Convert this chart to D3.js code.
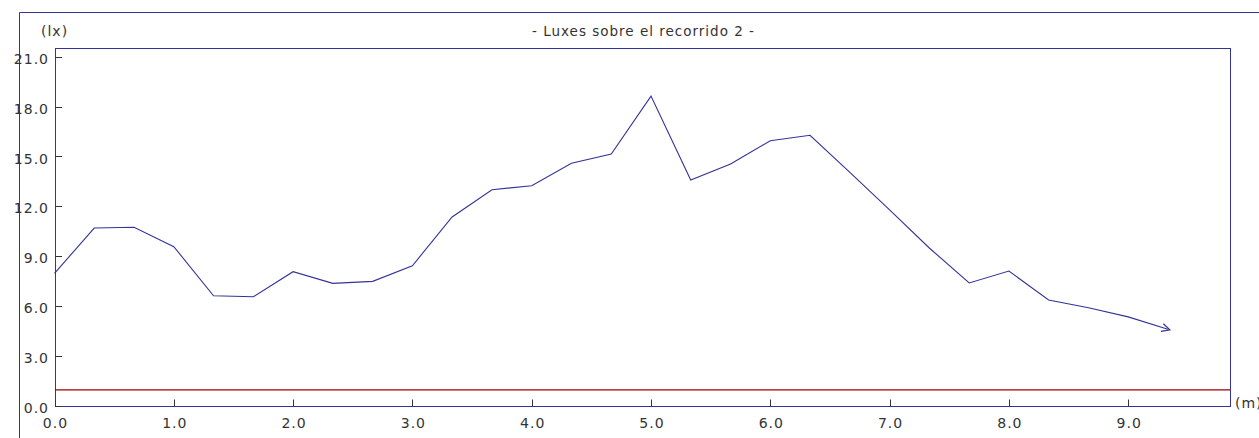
<!DOCTYPE html>
<html>
<head>
<meta charset="utf-8">
<script src="https://cdn.jsdelivr.net/npm/d3@7"></script>
<style>
  body { margin: 0; background: #fff; }
  text { font-family: "DejaVu Sans", Verdana, sans-serif; fill: #333; letter-spacing: 1px; }
</style>
</head>
<body>
<svg id="chart" width="1259" height="438"></svg>
<script>
// distance along the path (m) and measured illuminance (lx)
var distances = [0.000, 0.333, 0.667, 1.000, 1.333, 1.667, 2.000, 2.333, 2.667, 3.000,
                 3.333, 3.667, 4.000, 4.333, 4.667, 5.000, 5.333, 5.667, 6.000, 6.333,
                 6.667, 7.000, 7.333, 7.667, 8.000, 8.333, 8.667, 9.000, 9.333];
var luxes = [8.02, 10.75, 10.80, 9.63, 6.67, 6.61, 8.12, 7.42, 7.54, 8.48,
             11.42, 13.06, 13.30, 14.65, 15.21, 18.70, 13.64, 14.61, 16.01, 16.34,
             14.10, 11.85, 9.55, 7.44, 8.16, 6.42, 5.95, 5.40, 4.65];
var minimumLux = 1.0;
var yTicks = [0, 3, 6, 9, 12, 15, 18, 21];
var xTicks = [0, 1, 2, 3, 4, 5, 6, 7, 8, 9];
var title = "- Luxes sobre el recorrido 2 -";

var NAVY = "#333399";
var svg = d3.select("#chart");

var plot = { left: 55, right: 1230, top: 48, bottom: 406.5 };

var x = d3.scaleLinear().domain([0, 9.85]).range([54.5, 54.5 + 9.85 * 119.3]);
var y = d3.scaleLinear().domain([0, 21.6]).range([plot.bottom, plot.bottom - 21.6 * 16.6]);

svg.append("defs").append("marker")
    .attr("id", "arrow")
    .attr("viewBox", "-10 -6 12 12")
    .attr("refX", -2)
    .attr("refY", 0)
    .attr("markerWidth", 12)
    .attr("markerHeight", 12)
    .attr("markerUnits", "userSpaceOnUse")
    .attr("orient", "auto")
    .append("path")
    .attr("d", "M-8,-4L0,0L-8,4")
    .style("fill", "none")
    .style("stroke", NAVY)
    .attr("stroke-width", 1.2);

// outer frame (top + left)
svg.append("path")
    .attr("d", "M19.5,438V12.5H1259")
    .style("fill", "none")
    .style("stroke", NAVY);

// plot box
svg.append("rect")
    .attr("x", plot.left + 0.5)
    .attr("y", plot.top + 0.5)
    .attr("width", plot.right - plot.left)
    .attr("height", plot.bottom - plot.top - 0.5)
    .style("fill", "none")
    .style("stroke", NAVY);

// y ticks + labels
var yAxis = svg.append("g").attr("class", "y-axis");
yAxis.selectAll("line")
    .data(yTicks)
    .enter()
    .append("line")
    .attr("x1", plot.left)
    .attr("x2", plot.left + 7)
    .attr("y1", function (d) { return Math.round(y(d)) - 0.5; })
    .attr("y2", function (d) { return Math.round(y(d)) - 0.5; })
    .style("stroke", "#333");
yAxis.selectAll("text")
    .data(yTicks)
    .enter()
    .append("text")
    .attr("x", 49)
    .attr("y", function (d) { return y(d) + 6; })
    .attr("text-anchor", "end")
    .attr("font-size", 14)
    .text(function (d) { return d.toFixed(1); });

// x ticks + labels
var xAxis = svg.append("g").attr("class", "x-axis");
xAxis.selectAll("line")
    .data(xTicks)
    .enter()
    .append("line")
    .attr("x1", function (d) { return Math.round(x(d)) + 0.5; })
    .attr("x2", function (d) { return Math.round(x(d)) + 0.5; })
    .attr("y1", plot.bottom)
    .attr("y2", plot.bottom - 7)
    .style("stroke", "#333");
xAxis.selectAll("text")
    .data(xTicks)
    .enter()
    .append("text")
    .attr("x", function (d) { return x(d) + 1; })
    .attr("y", 428)
    .attr("text-anchor", "middle")
    .attr("font-size", 14)
    .text(function (d) { return d.toFixed(1); });

// units and title
svg.append("text").attr("x", 41).attr("y", 36).attr("font-size", 14).text("(lx)");
svg.append("text").attr("x", 1235).attr("y", 408).attr("font-size", 14).text("(m)");
svg.append("text")
    .attr("x", (plot.left + plot.right) / 2 + 1)
    .attr("y", 36)
    .attr("text-anchor", "middle")
    .attr("font-size", 13.5)
    .text(title);

// minimum reference line
svg.append("line")
    .attr("x1", plot.left)
    .attr("x2", plot.right)
    .attr("y1", y(minimumLux))
    .attr("y2", y(minimumLux))
    .style("stroke", "#990000")
    .attr("stroke-width", 1.2);

// lux curve
var points = distances.map(function (d, i) { return [d, luxes[i]]; });
svg.append("path")
    .datum(points)
    .attr("d", d3.line()
        .x(function (d) { return x(d[0]); })
        .y(function (d) { return y(d[1]); }))
    .style("fill", "none")
    .style("stroke", NAVY)
    .attr("stroke-width", 1.1)
    .attr("marker-end", "url(#arrow)");
</script>
</body>
</html>
